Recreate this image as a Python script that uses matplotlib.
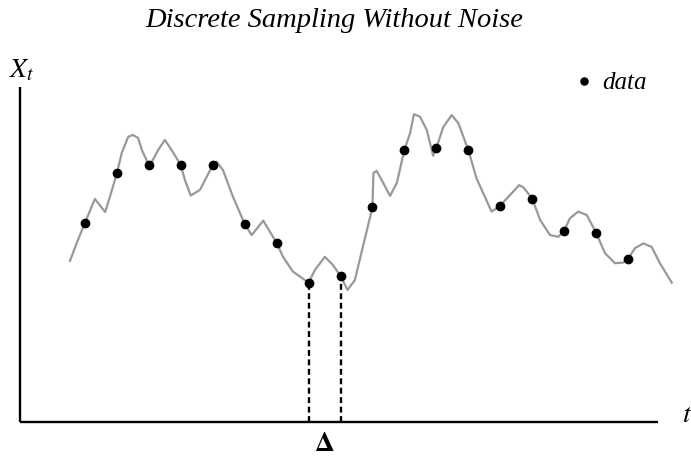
import matplotlib
matplotlib.use("Agg")
import matplotlib.pyplot as plt

plt.rcParams["font.family"] = ["Liberation Serif", "DejaVu Serif"]
plt.rcParams["mathtext.fontset"] = "stix"

# underlying continuous path (t, X)
path_t = [0.53, 0.74, 1.00, 1.31, 1.63, 1.78, 2.00, 2.15, 2.35, 2.50, 2.66, 2.78,
          3.00, 3.09, 3.29, 3.50, 3.71, 4.00, 4.13, 4.31, 4.60, 4.81, 5.00, 5.12,
          5.32, 5.63, 6.00, 6.22, 6.58, 6.79, 7.00, 7.20, 7.51, 8.00, 8.20, 8.51,
          8.76, 9.00, 9.22, 9.45, 9.70, 10.00, 10.03, 10.13, 10.34, 10.55, 10.76,
          11.00, 11.18, 11.30, 11.49, 11.70, 11.90, 12.00, 12.22, 12.48, 12.69,
          13.00, 13.26, 13.73, 14.00, 14.36, 14.59, 14.72, 15.00, 15.25, 15.56,
          15.82, 16.00, 16.18, 16.44, 16.71, 17.00, 17.28, 17.59, 17.85, 18.00,
          18.22, 18.48, 18.74, 19.00, 19.37]
path_x = [4.81, 5.34, 5.95, 6.66, 6.27, 6.72, 7.43, 8.03, 8.51, 8.57, 8.48, 8.12,
          7.67, 7.76, 8.12, 8.42, 8.12, 7.67, 7.22, 6.76, 6.93, 7.32, 7.67, 7.77,
          7.52, 6.73, 5.91, 5.58, 6.01, 5.68, 5.35, 4.93, 4.49, 4.16, 4.54, 4.93,
          4.69, 4.36, 3.94, 4.24, 5.23, 6.41, 7.43, 7.50, 7.13, 6.75, 7.13,
          8.12, 8.63, 9.19, 9.11, 8.72, 7.95, 8.18, 8.81, 9.16, 8.92,
          8.12, 7.27, 6.28, 6.46, 6.83, 7.07, 7.01, 6.67, 6.03, 5.58,
          5.53, 5.70, 6.08, 6.28, 6.18, 5.65, 5.04, 4.74, 4.76, 4.87,
          5.19, 5.33, 5.23, 4.74, 4.16]

# discrete samples
sample_t = list(range(1, 19))
sample_x = [5.95, 7.43, 7.67, 7.67, 7.67, 5.91, 5.35, 4.16, 4.36, 6.41,
            8.12, 8.18, 8.12, 6.46, 6.67, 5.70, 5.65, 4.87]

delta_idx = [7, 8]  # samples t=8 and t=9

fig = plt.figure(figsize=(6.91, 4.59), dpi=100)
ax = fig.add_axes([0, 0, 1, 1])
ax.set_xlim(-1.661, 19.973)
ax.set_ylim(-1.104, 12.597)
ax.axis("off")

x0, x1, ytop = -1.035, 18.955, 10.0
ax.plot([x0, x0], [0, ytop], color="black", lw=1.7, solid_capstyle="butt")
ax.plot([x0, x1], [0, 0], color="black", lw=1.7, solid_capstyle="butt")

ax.plot(path_t, path_x, color="#999999", lw=1.6, zorder=2)
ax.plot(sample_t, sample_x, "o", color="black", ms=6, zorder=3, label="data")

for i in delta_idx:
    ax.plot([sample_t[i], sample_t[i]], [0, sample_x[i]], color="black",
            lw=1.7, ls=(0, (2.5, 1.5)), zorder=1)

ax.text((sample_t[7] + sample_t[8]) / 2, -0.66, r"$\mathbf{\Delta}$",
        ha="center", va="center", fontsize=20)
ax.text(x0 + 0.05, 10.5, r"$X_t$", ha="center", va="center", fontsize=20)
ax.text(19.86, 0.2, r"$t$", ha="center", va="center", fontsize=20)

ax.text(334 / 691, 1 - 27 / 459, "Discrete Sampling Without Noise",
        transform=fig.transFigure, ha="center", va="baseline",
        fontsize=20.5, style="italic")

leg = ax.legend(loc="center left", bbox_to_anchor=(576 / 691, 1 - 83 / 459),
                bbox_transform=fig.transFigure, frameon=False,
                borderaxespad=0, borderpad=0,
                handlelength=0.6, handletextpad=0.45, markerscale=0.85,
                prop={"style": "italic", "size": 18})

fig.savefig("out.png", dpi=100)
